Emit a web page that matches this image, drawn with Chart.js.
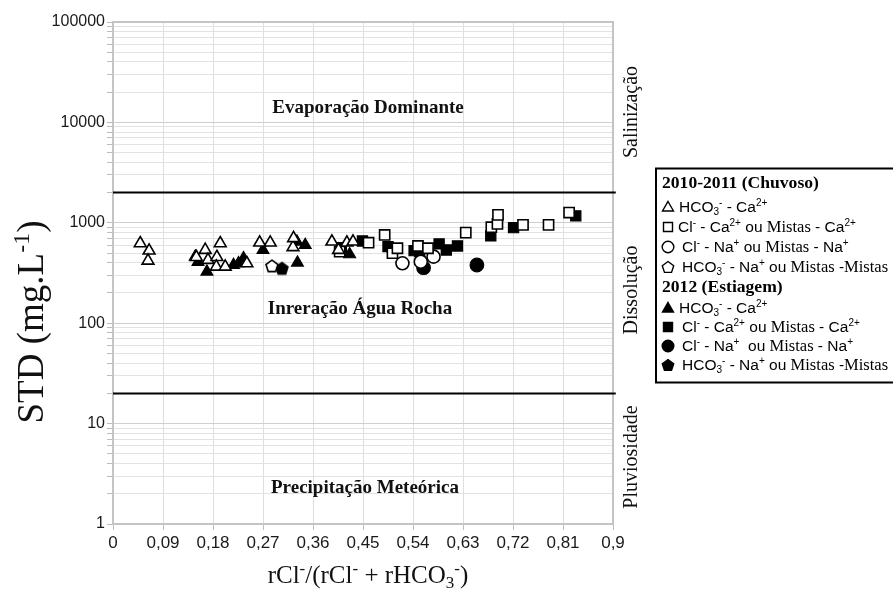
<!DOCTYPE html>
<html><head><meta charset="utf-8">
<script src="https://cdn.jsdelivr.net/npm/chart.js@4/dist/chart.umd.min.js"></script>
<style>html,body{margin:0;padding:0;background:#fff;}#wrap{width:893px;height:589px;position:relative;}</style>
</head><body><div id="wrap"><canvas id="c" width="893" height="589"></canvas></div>
<script>
// ---- data ----
const xTickValues=[0,0.09,0.18,0.27,0.36,0.45,0.54,0.63,0.72,0.81,0.9];
const xTickLabels=['0','0,09','0,18','0,27','0,36','0,45','0,54','0,63','0,72','0,81','0,9'];
const yDecades=[1,10,100,1000,10000,100000];
const limitValues=[2000,20];

// 2010-2011 (Chuvoso)
const openTriX=[0.049,0.065,0.063,0.166,0.193,0.150,0.171,0.187,0.186,0.202,0.241,0.264,0.283,0.324,0.325,0.394,0.406,0.421,0.432];
const openTriY=[625,528,419,536,625,456,426,456,365,365,395,634,634,571,702,649,536,634,649];
const openSqX=[0.408,0.460,0.489,0.503,0.512,0.549,0.567,0.635,0.681,0.692,0.693,0.738,0.784,0.821];
const openSqY=[516,634,757,498,558,588,558,798,904,975,1199,953,953,1265];
const openCircX=[0.521,0.554,0.577];
const openCircY=[395,410,460];
const openPentX=[0.286];
const openPentY=[372];
// 2012 (Estiagem)
const fillTriX=[0.148,0.153,0.169,0.217,0.226,0.235,0.270,0.331,0.346,0.332,0.426];
const fillTriY=[460,407,326,380,395,443,536,649,601,401,485];
const fillSqX=[0.411,0.449,0.495,0.542,0.552,0.587,0.600,0.620,0.680,0.721,0.833];
const fillSqY=[565,659,579,528,516,616,536,588,740,895,1172];
const fillCircX=[0.559,0.655];
const fillCircY=[357,380];
const fillPentX=[0.304];
const fillPentY=[352];

// ---- text ----
const regionLabels=['Evaporação Dominante','Inreração Água Rocha','Precipitação Meteórica'];
const sideLabels=['Salinização','Dissolução','Pluviosidade'];
const legendHeaders=['2010-2011 (Chuvoso)','2012 (Estiagem)'];
const legendRows=[
 [['HCO','n'],['3','sub'],['-','sup'],[' - Ca','n'],['2+','sup']],
 [['Cl','n'],['-','sup'],[' - Ca','n'],['2+','sup'],[' ou ','n'],['Mistas','s'],[' - Ca','n'],['2+','sup']],
 [['Cl','n'],['-','sup'],[' - Na','n'],['+','sup'],[' ou ','n'],['Mistas','s'],[' - Na','n'],['+','sup']],
 [['HCO','n'],['3','sub'],['-','sup'],[' - Na','n'],['+','sup'],[' ou ','n'],['Mistas','s'],[' -','n'],['Mistas','s']]
];
const legendRows2=[
 [['HCO','n'],['3','sub'],['-','sup'],[' - Ca','n'],['2+','sup']],
 [['Cl','n'],['-','sup'],[' - Ca','n'],['2+','sup'],[' ou ','n'],['Mistas','s'],[' - Ca','n'],['2+','sup']],
 [['Cl','n'],['-','sup'],[' - Na','n'],['+','sup'],['  ou ','n'],['Mistas','s'],[' - Na','n'],['+','sup']],
 [['HCO','n'],['3','sub'],['-','sup'],[' - Na','n'],['+','sup'],[' ou ','n'],['Mistas','s'],[' -','n'],['Mistas','s']]
];

const pts=(xs,ys)=>xs.map((x,i)=>({x:x,y:ys[i]}));

function pentCanvas(filled){
  const c=document.createElement('canvas');c.width=16;c.height=16;
  const g=c.getContext('2d');g.beginPath();
  for(let i=0;i<5;i++){const a=-Math.PI/2+i*2*Math.PI/5;const px=8+6.3*Math.cos(a),py=8.5+6.3*Math.sin(a);i?g.lineTo(px,py):g.moveTo(px,py);}
  g.closePath();g.fillStyle=filled?'#000':'#fff';g.fill();g.lineWidth=1.6;g.strokeStyle='#000';g.stroke();return c;
}
const pentOpen=pentCanvas(false), pentFill=pentCanvas(true);

function segFont(k,size,fam,serifSize){
  if(k==='s')return `${serifSize||size}px "Liberation Serif"`;
  if(k==='sup'||k==='sub')return `${Math.round(size*0.66)}px ${fam}`;
  return `${size}px ${fam}`;
}
function richWidth(ctx,segs,size,fam,serifSize){
  let w=0;for(const [t,k] of segs){ctx.font=segFont(k,size,fam,serifSize);w+=ctx.measureText(t).width;}return w;
}
function drawRich(ctx,x,base,segs,size,fam,serifSize){
  let cx=x;ctx.textBaseline='alphabetic';ctx.textAlign='left';
  for(const [t,k] of segs){
    ctx.font=segFont(k,size,fam,serifSize);
    let dy=0;if(k==='sup')dy=-size*0.38;if(k==='sub')dy=size*0.2;
    ctx.fillText(t,cx,base+dy);cx+=ctx.measureText(t).width;
  }
}
function marker(ctx,type,filled,x,y){
  ctx.save();ctx.beginPath();ctx.lineWidth=1.4;ctx.strokeStyle='#000';ctx.fillStyle=filled?'#000':'#fff';
  if(type==='tri'){ctx.moveTo(x,y-5.5);ctx.lineTo(x+5.5,y+4);ctx.lineTo(x-5.5,y+4);ctx.closePath();}
  else if(type==='sq'){ctx.rect(x-4.5,y-4.5,9,9);}
  else if(type==='circ'){ctx.arc(x,y,5.8,0,Math.PI*2);}
  else {for(let i=0;i<5;i++){const a=-Math.PI/2+i*2*Math.PI/5;const px=x+6*Math.cos(a),py=y+0.5+6*Math.sin(a);i?ctx.lineTo(px,py):ctx.moveTo(px,py);}ctx.closePath();}
  ctx.fill();ctx.stroke();ctx.restore();
}

const decor={
  id:'decor',
  beforeDatasetsDraw(chart){
    const {ctx,chartArea:a}=chart;ctx.save();ctx.strokeStyle='#c4c4c4';ctx.lineWidth=2;
    ctx.strokeRect(a.left,a.top,a.right-a.left,a.bottom-a.top);ctx.restore();
  },
  afterDraw(chart){
    const {ctx}=chart;ctx.save();ctx.fillStyle='#111';
    // region labels
    ctx.font='bold 19px "Liberation Serif"';ctx.textAlign='center';ctx.textBaseline='middle';
    ctx.fillText(regionLabels[0],368,108);
    ctx.fillText(regionLabels[1],360,309);
    ctx.fillText(regionLabels[2],365,488);
    // side labels
    ctx.font='20px "Liberation Serif"';ctx.textBaseline='alphabetic';
    [[sideLabels[0],112],[sideLabels[1],290],[sideLabels[2],457]].forEach(([t,cy])=>{
      ctx.save();ctx.translate(637,cy);ctx.rotate(-Math.PI/2);ctx.textAlign='center';ctx.fillText(t,0,0);ctx.restore();
    });
    // y title
    const ySegs=[['STD (mg.L','n'],['-1','sup'],[')','n']];
    const yf='"Liberation Serif"';
    ctx.save();ctx.translate(43,322);ctx.rotate(-Math.PI/2);
    const yw=richWidth(ctx,ySegs,37,yf);drawRich(ctx,-yw/2,0,ySegs,37,yf);ctx.restore();
    // x title
    const xSegs=[['rCl','n'],['-','sup'],['/(rCl','n'],['-','sup'],[' + rHCO','n'],['3','sub'],['-','sup'],[')','n']];
    const xw=richWidth(ctx,xSegs,25,yf);drawRich(ctx,368-xw/2,583,xSegs,25,yf);
    // legend box
    ctx.lineWidth=2;ctx.strokeStyle='#000';ctx.strokeRect(656,168.5,260,214);
    ctx.fillStyle='#000';
    ctx.font='bold 17.6px "Liberation Serif"';ctx.textAlign='left';ctx.textBaseline='middle';
    ctx.fillText(legendHeaders[0],662,183);
    ctx.fillText(legendHeaders[1],662,287);
    const types=['tri','sq','circ','pent'];
    const r1=[207,227,247,267], r2=[308,327,346,365];
    const tx1=[679,678,682,682], tx2=[679,682,682,682];
    for(let i=0;i<4;i++){
      marker(ctx,types[i],false,668,r1[i]);
      ctx.fillStyle='#000';drawRich(ctx,tx1[i],r1[i]+5,legendRows[i],15.5,'"Liberation Sans"',16.5);
      marker(ctx,types[i],true,668,r2[i]);
      ctx.fillStyle='#000';drawRich(ctx,tx2[i],r2[i]+5,legendRows2[i],15.5,'"Liberation Sans"',16.5);
    }
    ctx.restore();
  }
};

const yTickVals=[];for(let k=0;k<5;k++){for(let m=1;m<10;m++)yTickVals.push(m*Math.pow(10,k));}yTickVals.push(100000);

const openStyle={backgroundColor:'#fff',borderColor:'#000',borderWidth:1.6};
const fillStyle={backgroundColor:'#000',borderColor:'#000',borderWidth:1.2};

new Chart(document.getElementById('c'),{
  type:'scatter',
  data:{datasets:[
    {type:'line',data:[{x:0,y:limitValues[0]},{x:0.905,y:limitValues[0]}],borderColor:'#000',borderWidth:2,pointRadius:0,clip:false,order:0},
    {type:'line',data:[{x:0,y:limitValues[1]},{x:0.905,y:limitValues[1]}],borderColor:'#000',borderWidth:2,pointRadius:0,clip:false,order:0},
    Object.assign({data:pts(openTriX,openTriY),pointStyle:'triangle',pointRadius:6.8},openStyle),
    Object.assign({data:pts(openSqX,openSqY),pointStyle:'rect',pointRadius:7.2},openStyle),
    Object.assign({data:pts(openCircX,openCircY),pointStyle:'circle',pointRadius:6.5},openStyle),
    {data:pts(openPentX,openPentY),pointStyle:pentOpen,pointRadius:7},
    Object.assign({data:pts(fillTriX,fillTriY),pointStyle:'triangle',pointRadius:6.8},fillStyle),
    Object.assign({data:pts(fillSqX,fillSqY),pointStyle:'rect',pointRadius:7.2},fillStyle),
    Object.assign({data:pts(fillCircX,fillCircY),pointStyle:'circle',pointRadius:6.8},fillStyle),
    {data:pts(fillPentX,fillPentY),pointStyle:pentFill,pointRadius:7}
  ]},
  options:{
    responsive:false,animation:false,devicePixelRatio:1,
    layout:{padding:{top:22,right:280,bottom:0,left:0}},
    plugins:{legend:{display:false},tooltip:{enabled:false}},
    scales:{
      x:{type:'linear',min:0,max:0.9,
        afterBuildTicks:s=>{s.ticks=xTickValues.map(v=>({value:v}));},
        afterFit:s=>{s.height=65;},
        ticks:{autoSkip:false,maxRotation:0,padding:3,color:'#1a1a1a',font:{family:'"Liberation Sans"',size:17},
          callback:(v,i)=>xTickLabels[i]},
        grid:{color:'#dedede',lineWidth:1,tickLength:6,tickColor:'#bdbdbd'},border:{display:false}},
      y:{type:'logarithmic',min:1,max:100000,
        afterBuildTicks:s=>{s.ticks=yTickVals.map(v=>({value:v}));},
        afterFit:s=>{s.width=113;},
        ticks:{autoSkip:false,padding:2,color:'#1a1a1a',font:{family:'"Liberation Sans"',size:16},
          callback:v=>yDecades.includes(v)?String(v):''},
        grid:{color:c=>yDecades.includes(c.tick&&c.tick.value)?'#cfcfcf':'#e2e2e2',lineWidth:1,tickLength:6,tickColor:'#bdbdbd'},border:{display:false}}
    }
  },
  plugins:[decor]
});
</script></body></html>
